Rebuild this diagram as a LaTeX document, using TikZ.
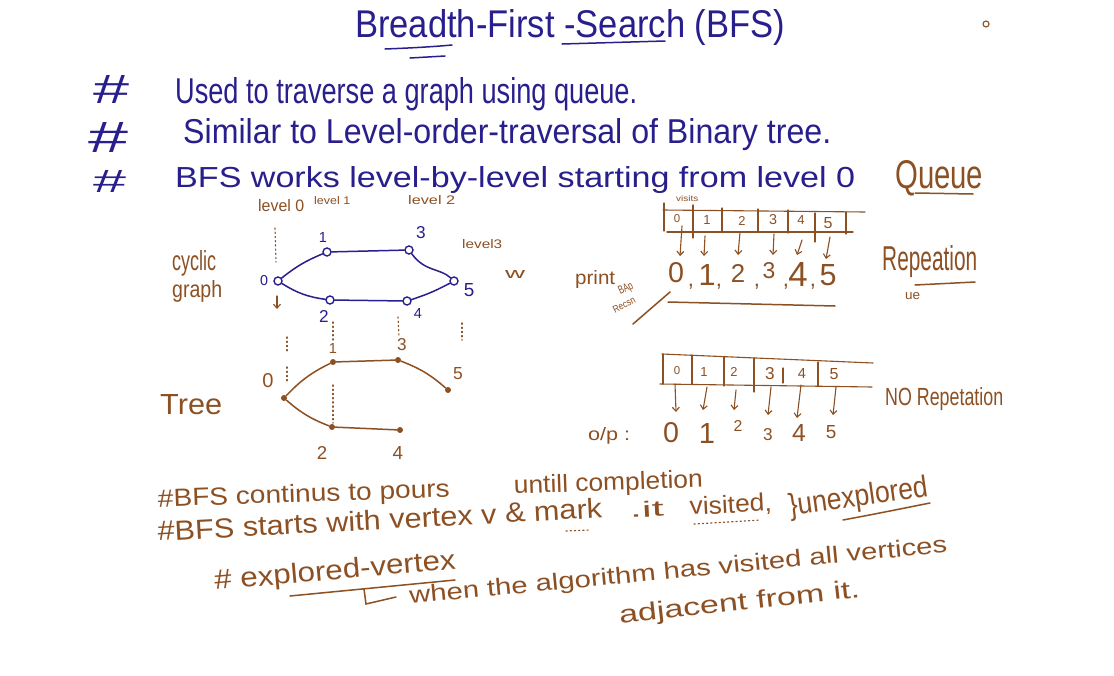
\documentclass[tikz,border=0pt]{standalone}
\usepackage{fontspec}
\setmainfont{Liberation Sans}
\usetikzlibrary{arrows.meta}
\definecolor{ink}{RGB}{40,30,140}
\definecolor{brn}{RGB}{140,80,35}
\newcommand\hw[3]{\resizebox{#1pt}{#2pt}{#3}}
\newcommand\hh[2]{\resizebox{!}{#1pt}{#2}}
\begin{document}
\begin{tikzpicture}[x=1pt,y=-1pt,
  t/.style={inner sep=0,anchor=base west},
  tc/.style={inner sep=0,anchor=center},
  bl/.style={text=ink},
  br/.style={text=brn},
  bstroke/.style={draw=ink,line width=1.5pt,line cap=round},
  rstroke/.style={draw=brn,line width=1.5pt,line cap=round},
  rthin/.style={draw=brn,line width=1.1pt,line cap=round},
  gnode/.style={circle,draw=ink,line width=1.4pt,minimum size=8pt,inner sep=0},
  tnode/.style={circle,fill=brn,minimum size=6pt,inner sep=0},
  dots/.style={draw=brn,line width=1.2pt,dash pattern=on 1.2pt off 3pt,line cap=round},
  arr/.style={rthin,-{Straight Barb[length=4pt,width=7pt]}},
  comma/.style={inner sep=0,anchor=center,text=brn,font=\fontsize{22}{22}\selectfont}]
\useasboundingbox (0,0) rectangle (1114,675);
\fill[white] (0,0) rectangle (1114,675);

% ---------- title ----------
\node[t,bl] (title) at (355,37) {\hw{430}{28}{Breadth-First -Search (BFS)}};
\draw[bstroke] (385,49) .. controls (410,48) and (430,47) .. (452,45);
\draw[bstroke] (562,44) -- (665,41);
\draw[bstroke] (410,58) -- (445,56);
\draw[rthin] (986,24) circle (3);
\coordinate (odot) at (986,24);

% ---------- bullet lines ----------
\node[t,bl] (h1) at (93,103) {\hw{36}{28}{\#}};
\node[t,bl] (l1) at (175,103) {\hw{462}{26}{Used to traverse a graph using queue.}};
\node[t,bl] (h2) at (88,152) {\hw{40}{30}{\#}};
\node[t,bl] (l2) at (183,143) {\hw{648}{25}{Similar to Level-order-traversal of Binary tree.}};
\node[t,bl] (h3) at (93,192) {\hw{33}{22}{\#}};
\node[t,bl] (l3) at (175,187) {\hw{680}{21}{BFS works level-by-level starting from level 0}};
\node[t,br] (queue) at (895,188) {\hw{88}{28}{Queue}};
\draw[rstroke] (915,193) -- (973,194);

% ---------- level labels ----------
\node[t,br] (lv0) at (258,211) {\hw{46}{12}{level 0}};
\node[t,br] (lv1) at (314,204) {\hw{36}{8}{level 1}};
\node[t,br] (lv2) at (408,204) {\hw{47}{9}{level 2}};
\node[t,br] (lv3) at (462,248) {\hw{40}{9}{level3}};
\node[t,br] (visits) at (676,201) {\hw{22}{6}{visits}};

% ---------- cyclic graph ----------
\node[t,br] (cyc) at (172,270) {\hw{44}{20}{cyclic}};
\node[t,br] (gra) at (172,297) {\hw{50}{17}{graph}};
\node[gnode] (g0) at (278,281) {};
\node[gnode] (g1) at (327,252) {};
\node[gnode] (g3) at (409,250) {};
\node[gnode] (g5) at (454,281) {};
\node[gnode] (g2) at (330,300) {};
\node[gnode] (g4) at (407,301) {};
\draw[bstroke] (g0) to[bend left=8] (g1);
\draw[bstroke] (g1) -- (g3);
\draw[bstroke] (g3) .. controls (425,272) and (440,268) .. (g5);
\draw[bstroke] (g0) to[bend right=12] (g2);
\draw[bstroke] (g2) -- (g4);
\draw[bstroke] (g4) to[bend right=5] (g5);
\node[tc,bl] (gl0) at (264,281) {\hh{10}{0}};
\node[tc,bl] (gl1) at (323,237) {\hh{10}{1}};
\node[tc,bl] (gl3) at (421,233) {\hh{12}{3}};
\node[tc,bl] (gl5) at (469,290) {\hh{13}{5}};
\node[tc,bl] (gl2) at (324,316) {\hh{12}{2}};
\node[tc,bl] (gl4) at (418,313) {\hh{10}{4}};
\coordinate (a0s) at (277,296);
\coordinate (a0e) at (277,309);
\draw[arr] (a0s) -- (a0e);
\coordinate (d0a) at (275,228);
\coordinate (d0b) at (276,262);
\draw[dots] (d0a) -- (d0b);
\node[t,br] (wsq) at (505,278) {\hw{20}{8}{w}};

% ---------- dotted guides ----------
\coordinate (v1a) at (287,337); \coordinate (v1b) at (287,353);
\coordinate (v2a) at (287,367); \coordinate (v2b) at (287,383);
\coordinate (v3a) at (333,322); \coordinate (v3b) at (333,340);
\coordinate (v4a) at (333,385); \coordinate (v4b) at (333,423);
\coordinate (v5a) at (398,317); \coordinate (v5b) at (399,337);
\coordinate (v6a) at (462,323); \coordinate (v6b) at (462,340);
\foreach \a/\b in {v1a/v1b,v2a/v2b,v3a/v3b,v4a/v4b,v5a/v5b,v6a/v6b}
  \draw[dots] (\a) -- (\b);

% ---------- tree ----------
\node[t,br] (tree) at (160,414) {\hw{62}{20}{Tree}};
\node[tnode] (t0) at (284,398) {};
\node[tnode] (t1) at (333,362) {};
\node[tnode] (t3) at (398,360) {};
\node[tnode] (t5) at (448,390) {};
\node[tnode] (t2) at (332,427) {};
\node[tnode] (t4) at (400,430) {};
\draw[rstroke] (t0) to[bend left=10] (t1);
\draw[rstroke] (t1) -- (t3);
\draw[rstroke] (t3) to[bend left=10] (t5);
\draw[rstroke] (t0) to[bend right=10] (t2);
\draw[rstroke] (t2) -- (t4);
\node[tc,br] (tl0) at (268,381) {\hh{14}{0}};
\node[tc,br] (tl1) at (333,348) {\hh{10}{1}};
\node[tc,br] (tl3) at (402,345) {\hh{12}{3}};
\node[tc,br] (tl5) at (458,374) {\hh{12}{5}};
\node[tc,br] (tl2) at (322,453) {\hh{13}{2}};
\node[tc,br] (tl4) at (398,453) {\hh{13}{4}};

% ---------- queue array 1 ----------
\coordinate (q1tl) at (663,210); \coordinate (q1tr) at (865,212);
\coordinate (q1bl) at (667,232); \coordinate (q1br) at (853,232);
\draw[rthin] (q1tl) -- (q1tr);
\draw[rthin] (q1bl) -- (q1br);
\foreach \x/\a/\b [count=\i] in {664/203/231,693/205/238,722/208/232,758/209/232,788/210/233,815/213/242,846/212/234}
  {\coordinate (q1d\i a) at (\x,\a); \coordinate (q1d\i b) at (\x,\b);
   \draw[rthin] (q1d\i a) -- (q1d\i b);}
\node[tc,br] (q1c0) at (677,219) {\hh{8}{0}};
\node[tc,br] (q1c1) at (707,220) {\hh{9}{1}};
\node[tc,br] (q1c2) at (742,221) {\hh{9}{2}};
\node[tc,br] (q1c3) at (773,220) {\hh{10}{3}};
\node[tc,br] (q1c4) at (801,220) {\hh{9}{4}};
\node[tc,br] (q1c5) at (828,223) {\hh{11}{5}};
\foreach \sx/\sy/\ex/\ey [count=\i] in {682/226/680/256,705/236/704/256,740/232/738/255,774/234/773/255,802/240/797/255,830/237/826/259}
  {\coordinate (q1s\i) at (\sx,\sy); \coordinate (q1e\i) at (\ex,\ey);
   \draw[arr] (q1s\i) -- (q1e\i);}
\node[t,br] (print) at (575,284) {\hw{40}{14}{print}};
\node[tc,br] (p0) at (676,273) {\hh{20}{0}};
\node[tc,br] (p1) at (707,275) {\hh{21}{1}};
\node[tc,br] (p2) at (738,273) {\hh{18}{2}};
\node[tc,br] (p3) at (769,271) {\hh{16}{3}};
\node[tc,br] (p4) at (798,274) {\hh{24}{4}};
\node[tc,br] (p5) at (828,275) {\hh{21}{5}};
\foreach \x/\y [count=\i] in {691,719,757,786,813}
  \node[comma] (pc\i) at (\x,287) {,};
\coordinate (pu1) at (668,302); \coordinate (pu2) at (835,306);
\draw[rstroke] (pu1) -- (pu2);
\coordinate (sl1) at (633,324); \coordinate (sl2) at (670,292);
\draw[rstroke] (sl1) -- (sl2);
\node[tc,br,rotate=25] (bap) at (626,289) {\hw{15}{8}{BAp}};
\node[tc,br,rotate=28] (recs) at (624,305) {\hw{24}{7}{Recsn}};
\node[t,br] (rep) at (882,270) {\hw{95}{25}{Repeation}};
\coordinate (ru1) at (915,285); \coordinate (ru2) at (975,282);
\draw[rstroke] (ru1) -- (ru2);
\node[t,br] (ue) at (905,299) {\hw{15}{7}{ue}};

% ---------- queue array 2 ----------
\coordinate (q2tl) at (662,354); \coordinate (q2tr) at (873,363);
\coordinate (q2bl) at (660,384); \coordinate (q2br) at (872,387);
\draw[rthin] (q2tl) -- (q2tr);
\draw[rthin] (q2bl) -- (q2br);
\foreach \x/\a/\b [count=\i] in {663/354/384,692/355/384,724/357/386,754/358/392,783/368/383,818/362/386}
  {\coordinate (q2d\i a) at (\x,\a); \coordinate (q2d\i b) at (\x,\b);
   \draw[rthin] (q2d\i a) -- (q2d\i b);}
\node[tc,br] (q2c0) at (677,371) {\hh{8}{0}};
\node[tc,br] (q2c1) at (704,372) {\hh{9}{1}};
\node[tc,br] (q2c2) at (734,372) {\hh{9}{2}};
\node[tc,br] (q2c3) at (770,374) {\hh{12}{3}};
\node[tc,br] (q2c4) at (802,373) {\hh{10}{4}};
\node[tc,br] (q2c5) at (834,374) {\hh{11}{5}};
\foreach \sx/\sy/\ex/\ey [count=\i] in {675/384/676/412,707/387/703/410,736/390/734/410,771/387/768/415,801/385/797/418,836/387/833/415}
  {\coordinate (q2s\i) at (\sx,\sy); \coordinate (q2e\i) at (\ex,\ey);
   \draw[arr] (q2s\i) -- (q2e\i);}
\node[t,br] (op) at (588,440) {\hw{42}{13}{o/p :}};
\node[tc,br] (o0) at (671,433) {\hh{20}{0}};
\node[tc,br] (o1) at (707,433) {\hh{20}{1}};
\node[tc,br] (o2) at (738,426) {\hh{11}{2}};
\node[tc,br] (o3) at (768,435) {\hh{12}{3}};
\node[tc,br] (o4) at (799,433) {\hh{17}{4}};
\node[tc,br] (o5) at (831,432) {\hh{13}{5}};
\node[t,br] (norep) at (885,405) {\hw{118}{18}{NO Repetation}};

% ---------- bottom notes ----------
\node[t,br,rotate=2] (na1) at (158,507) {\hw{292}{18}{\#BFS continus to pours}};
\node[t,br,rotate=2] (na2) at (514,494) {\hw{189}{18}{untill completion}};
\node[t,br,rotate=3] (nb1) at (158,541) {\hw{445}{20}{\#BFS starts with vertex v \& mark}};
\node[t,br,rotate=3] (nb2) at (630,518) {\hw{34}{16}{.it}};
\node[t,br,rotate=3] (nb3) at (690,515) {\hw{82}{18}{visited,}};
\node[t,br,rotate=8] (nc) at (790,516) {\hw{140}{22}{\}unexplored}};
\coordinate (uu1) at (843,520); \coordinate (uu2) at (930,503);
\draw[rstroke] (uu1) .. controls (880,513) .. (uu2);
\coordinate (vd1) at (694,524); \coordinate (vd2) at (760,520);
\draw[dots] (vd1) -- (vd2);
\coordinate (md1) at (566,531); \coordinate (md2) at (590,530);
\draw[dots] (md1) -- (md2);
\node[t,br,rotate=5] (ncx) at (215,590) {\hw{242}{20}{\# explored-vertex}};
\coordinate (eu1) at (290,596); \coordinate (eu2) at (455,580);
\draw[rstroke] (eu1) -- (eu2);
\coordinate (L1) at (364,589); \coordinate (L2) at (366,604); \coordinate (L3) at (396,597);
\draw[rstroke] (L1) -- (L2) -- (L3);
\node[t,br,rotate=5.5] (nd) at (410,604) {\hw{540}{17}{when the algorithm has visited all vertices}};
\node[t,br,rotate=6.4] (ne) at (620,624) {\hw{242}{18}{adjacent from it.}};
\end{tikzpicture}
\end{document}
